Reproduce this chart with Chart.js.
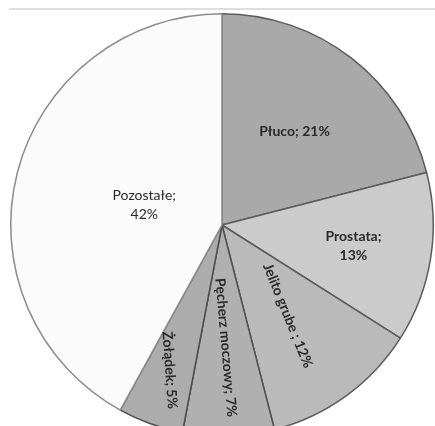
<!DOCTYPE html>
<html>
<head>
<meta charset="utf-8">
<script src="https://cdn.jsdelivr.net/npm/chart.js@4"></script>
<style>
  html, body { margin: 0; padding: 0; background: #fff; overflow: hidden; width: 435px; height: 426px; }
  #wrap { position: relative; width: 435px; height: 426px; overflow: hidden; }
  #topline { position: absolute; left: 9px; top: 8px; width: 426px; height: 2px; background: #dedede; }
  canvas { position: absolute; left: 0; top: 0; }
</style>
</head>
<body>
<div id="wrap">
  <div id="topline"></div>
  <canvas id="c" width="444" height="450"></canvas>
</div>
<script>
const categories = ['Płuco', 'Prostata', 'Jelito grube ', 'Pęcherz moczowy', 'Żołądek', 'Pozostałe']
const shares = [21, 13, 12, 7, 5, 42]
const sliceColors = ['#a9a9a9', '#cbcbcb', '#bababa', '#b0b0b0', '#acacac', '#fbfbfb']

// where each label sits (fraction of radius), its rotation and how it wraps
const labelLayout = [
  { frac: 0.56, rot: 0, lines: (c, v) => [c + '; ' + v + '%'], weight: 'bold' },
  { frac: 0.63, rot: 0, lines: (c, v) => [c + ';', v + '%'], weight: 'bold' },
  { frac: 0.53, rot: 68, lines: (c, v) => [c + '; ' + v + '%'], weight: 'bold' },
  { frac: 0.58, rot: 85, lines: (c, v) => [c + '; ' + v + '%'], weight: 'bold' },
  { frac: 0.73, rot: 86, lines: (c, v) => [c + '; ' + v + '%'], weight: 'bold' },
  { frac: 0.38, rot: 0, lines: (c, v) => [c + ';', v + '%'], weight: 'normal' }
]

const sliceLabels = {
  id: 'sliceLabels',
  afterDatasetsDraw(chart) {
    const ctx = chart.ctx
    const meta = chart.getDatasetMeta(0)
    meta.data.forEach((arc, i) => {
      const p = arc.getProps(['x', 'y', 'startAngle', 'endAngle', 'outerRadius'], true)
      const mid = (p.startAngle + p.endAngle) / 2
      const lay = labelLayout[i]
      const r = p.outerRadius * lay.frac
      const lx = p.x + Math.cos(mid) * r
      const ly = p.y + Math.sin(mid) * r
      const lines = lay.lines(categories[i], shares[i])
      ctx.save()
      ctx.translate(lx, ly)
      ctx.rotate(lay.rot * Math.PI / 180)
      ctx.fillStyle = '#2a2a2a'
      ctx.font = lay.weight + ' 14px Lato, "Open Sans", sans-serif'
      ctx.textAlign = 'center'
      ctx.textBaseline = 'middle'
      const lh = 19
      lines.forEach((t, k) => {
        ctx.fillText(t, 0, (k - (lines.length - 1) / 2) * lh)
      })
      ctx.restore()
    })
  }
}

const ctx = document.getElementById('c').getContext('2d')
new Chart(ctx, {
  type: 'pie',
  data: {
    labels: categories,
    datasets: [
      {
        data: shares,
        backgroundColor: sliceColors,
        borderColor: ['#5c5c5c', '#5c5c5c', '#5c5c5c', '#4e4e4e', '#4e4e4e', '#8c8c8c'],
        borderWidth: 1.5
      }
    ]
  },
  options: {
    responsive: false,
    animation: false,
    devicePixelRatio: 1,
    layout: { padding: { left: 10, right: 10, top: 13, bottom: 13 } },
    plugins: {
      legend: { display: false },
      tooltip: { enabled: false }
    }
  },
  plugins: [sliceLabels]
})
</script>
</body>
</html>
